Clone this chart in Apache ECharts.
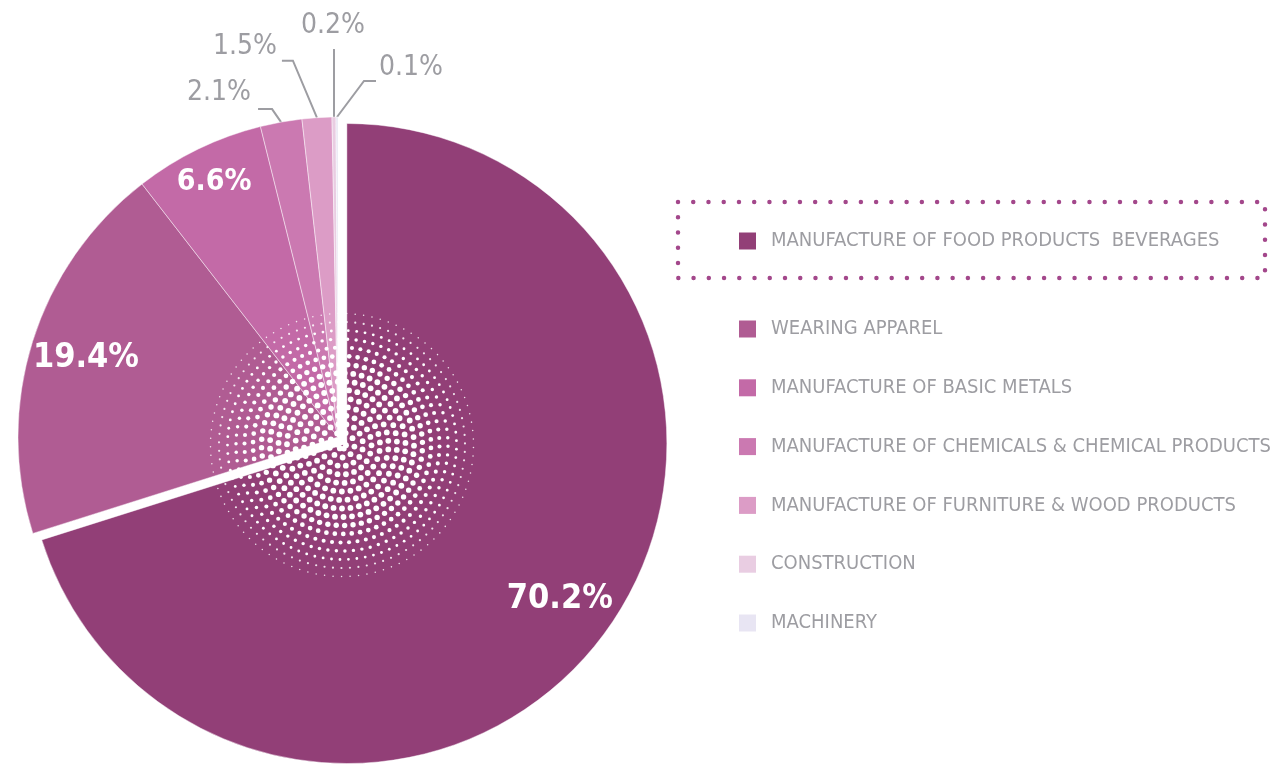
<!DOCTYPE html>
<html>
<head>
<meta charset="utf-8">
<script src="https://cdn.jsdelivr.net/npm/echarts@6/dist/echarts.min.js"></script>
<style>
    html, body { margin: 0; padding: 0; background: #fff; }
    #chart { width: 1279px; height: 764px; }
</style>
</head>
<body>
<div id="chart"></div>
<script>
const categories = [
    'MANUFACTURE OF FOOD PRODUCTS  BEVERAGES',
    'WEARING APPAREL',
    'MANUFACTURE OF BASIC METALS',
    'MANUFACTURE OF CHEMICALS & CHEMICAL PRODUCTS',
    'MANUFACTURE OF FURNITURE & WOOD PRODUCTS',
    'CONSTRUCTION',
    'MACHINERY'
];
const shares = [70.2, 19.4, 6.6, 2.1, 1.5, 0.2, 0.1];
const colors = ['#923f77', '#b05c93', '#c36aa7', '#cb79b1', '#dc9cc6', '#e9cde2', '#e8e5f3'];

const pieCenter = [338, 437];
const pieRadius = 320;
const explode = 11; // the big slice is pulled out of the pie
const grey = '#9d9da2';
const narrow = '"Liberation Sans Narrow", "DejaVu Sans Condensed", sans-serif';

// centre of the pulled-out slice, moved along its middle angle
const total = shares.reduce(function (a, b) { return a + b; }, 0);
const midAngle = Math.PI / 2 - Math.PI * shares[0] / total;
const bigCenter = [pieCenter[0] + explode * Math.cos(midAngle), pieCenter[1] - explode * Math.sin(midAngle)];

// inside labels are pushed out along their ray, outside ones get hand-shaped leader lines
const insideScale = [1.62, 1.62, 1.74];
const outsideLabels = {
    3: { line: [[-9, -13], [-23, -13]], text: [-30, -29], align: 'right' },
    4: { line: [[-24, -57], [-35, -57]], text: [-40, -71], align: 'right' },
    5: { line: [[0, -68], [0, -68]], text: [-1, -91], align: 'center' },
    6: { line: [[27, -36], [39, -36]], text: [42, -49], align: 'left' }
};

function makeLayout(c) {
    return function (p) {
        const i = p.dataIndex;
        if (i < 3) {
            const r = p.labelRect;
            const lx = r.x + r.width / 2;
            const ly = r.y + r.height / 2;
            return {
                x: c[0] + (lx - c[0]) * insideScale[i],
                y: c[1] + (ly - c[1]) * insideScale[i],
                align: 'center',
                verticalAlign: 'middle'
            };
        }
        const cfg = outsideLabels[i];
        if (!p.labelLinePoints || !p.labelLinePoints[0]) return {};
        const p0 = p.labelLinePoints[0];
        return {
            x: p0[0] + cfg.text[0],
            y: p0[1] + cfg.text[1],
            align: cfg.align,
            verticalAlign: 'middle',
            labelLinePoints: [
                p0,
                [p0[0] + cfg.line[0][0], p0[1] + cfg.line[0][1]],
                [p0[0] + cfg.line[1][0], p0[1] + cfg.line[1][1]]
            ]
        };
    };
}

// each pie holds every slice so the angles agree; it only paints its own ones
function slices(show) {
    return shares.map(function (v, i) {
        const item = { value: v, name: categories[i] };
        if (!show(i)) {
            item.itemStyle = { color: 'rgba(0,0,0,0)', borderWidth: 0 };
            item.label = { show: false };
            item.labelLine = { show: false };
            return item;
        }
        item.itemStyle = { color: colors[i] };
        if (i < 3) {
            item.label = {
                position: 'inside',
                color: '#fff',
                fontWeight: 'bold',
                fontSize: i === 2 ? 30 : 34
            };
            item.labelLine = { show: false };
        }
        return item;
    });
}

function pie(c, show) {
    return {
        type: 'pie',
        center: c,
        radius: [0, pieRadius],
        startAngle: 90,
        clockwise: true,
        silent: true,
        avoidLabelOverlap: false,
        itemStyle: { borderColor: 'rgba(255,255,255,0.45)', borderWidth: 1 },
        label: {
            position: 'outside',
            formatter: '{c}%',
            color: grey,
            fontFamily: narrow,
            fontSize: 28
        },
        labelLine: { show: true, lineStyle: { color: grey, width: 2 } },
        labelLayout: makeLayout(c),
        data: slices(show)
    };
}

// halftone decoration over the middle of the pie
const dots = [];
const hc = [342, 445];
for (let r = 4; r <= 152; r += 8.5) {
    const n = Math.max(6, Math.round(2 * Math.PI * r / 8.5));
    const size = r < 75 ? 2.9 : 2.9 * Math.max(0, (152 - r) / 77);
    if (size < 0.5) continue;
    for (let j = 0; j < n; j++) {
        const a = (j / n) * Math.PI * 2 + r * 0.01;
        dots.push({
            type: 'circle',
            silent: true,
            z: 10,
            shape: { cx: hc[0] + r * Math.cos(a), cy: hc[1] + r * Math.sin(a), r: size },
            style: { fill: '#fff', opacity: r < 120 ? 1 : 0.85 }
        });
    }
}

const legendText = { color: grey, fontFamily: narrow, fontSize: 20, lineHeight: 24, padding: [0, 0, 0, 10] };
const legendItems = categories.map(function (name, i) {
    return { name: name, itemStyle: { color: colors[i], borderWidth: 0 } };
});

const chart = echarts.init(document.getElementById('chart'));
chart.setOption({
    animation: false,
    backgroundColor: '#fff',
    legend: [
        {
            data: legendItems.slice(0, 1),
            left: 739,
            top: 229,
            padding: 0,
            icon: 'rect',
            itemWidth: 17,
            itemHeight: 17,
            selectedMode: false,
            textStyle: legendText
        },
        {
            data: legendItems.slice(1),
            orient: 'vertical',
            left: 739,
            top: 317,
            padding: 0,
            itemGap: 34.8,
            icon: 'rect',
            itemWidth: 17,
            itemHeight: 17,
            selectedMode: false,
            textStyle: legendText
        }
    ],
    graphic: {
        elements: [
            {
                type: 'rect',
                silent: true,
                shape: { x: 678, y: 202, width: 587, height: 76 },
                style: { fill: 'none', stroke: '#a3478b', lineWidth: 4.5, lineDash: [0, 15.24], lineCap: 'round' }
            }
        ].concat(dots)
    },
    series: [
        pie(pieCenter, function (i) { return i > 0; }),
        pie(bigCenter, function (i) { return i === 0; })
    ]
});
</script>
</body>
</html>
